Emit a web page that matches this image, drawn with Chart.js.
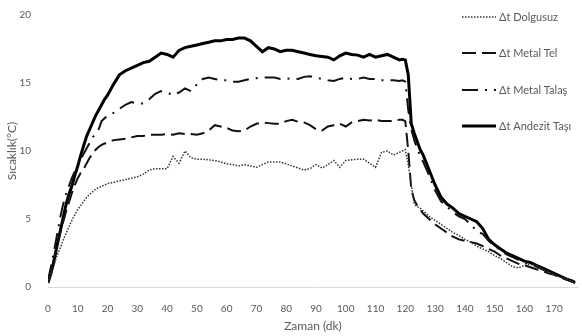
<!doctype html>
<html>
  <head>
    <meta charset="utf-8" />
    <title>Sicaklik</title>
    <script src="https://cdn.jsdelivr.net/npm/chart.js@4/dist/chart.umd.min.js"></script>
    <style>
      html, body { margin: 0; padding: 0; background: #fff; }
      #kutu { width: 582px; height: 336px; }
    </style>
    <script>
      // zaman (dk)
      const zaman = [
        0, 1, 2, 3, 4, 5, 6, 7, 8, 9, 10, 11, 12, 13, 14, 15, 16, 17, 18, 19, 20,
        22, 24, 26, 28, 30, 32, 34, 36, 38, 40, 42, 44, 46, 48, 50, 52, 54, 56, 58,
        60, 62, 64, 66, 68, 70, 72, 74, 76, 78, 80, 82, 84, 86, 88, 90, 92, 94, 96, 98,
        100, 102, 104, 106, 108, 110, 112, 114, 116, 118, 119, 120, 121, 122, 123, 124, 125, 126,
        128, 130, 132, 134, 136, 138, 140, 142, 144, 146, 148, 150, 152, 154, 156, 158,
        160, 162, 164, 166, 168, 170, 172, 174, 176, 177
      ];

      const dolgusuz = [
        0.3, 1.0, 1.6, 2.3, 2.8, 3.4, 3.9, 4.4, 4.9, 5.3, 5.7, 6.0, 6.3, 6.6, 6.8, 7.0, 7.2, 7.3, 7.4, 7.5, 7.6,
        7.7, 7.8, 7.9, 8.0, 8.1, 8.3, 8.6, 8.7, 8.7, 8.7, 9.6, 9.1, 10.0, 9.5, 9.4, 9.4, 9.35, 9.3, 9.2,
        9.05, 9.0, 8.9, 9.0, 8.9, 8.8, 9.0, 9.2, 9.2, 9.2, 9.05, 8.9, 8.75, 8.6, 8.7, 9.0, 8.75, 9.0, 9.3, 8.8,
        9.3, 9.35, 9.4, 9.4, 9.1, 8.8, 9.9, 10.0, 9.7, 9.9, 10.0, 10.1, 9.0, 7.5, 6.1, 5.9, 5.8, 5.6,
        5.2, 4.9, 4.6, 4.3, 4.0, 3.8, 3.5, 3.3, 3.0, 2.8, 2.6, 2.3, 2.1, 1.8, 1.5, 1.4,
        1.6, 1.65, 1.6, 1.3, 1.1, 0.9, 0.75, 0.6, 0.4, 0.3
      ];

      const metalTel = [
        0.4, 1.2, 2.1, 3.0, 3.9, 4.7, 5.5, 6.2, 6.9, 7.5, 8.0, 8.4, 8.7, 9.1, 9.5, 9.8, 10.1, 10.3, 10.45, 10.55, 10.6,
        10.8, 10.85, 10.9, 11.0, 11.1, 11.1, 11.2, 11.2, 11.2, 11.25, 11.2, 11.3, 11.25, 11.25, 11.2, 11.3, 11.5, 11.9, 11.8,
        11.7, 11.5, 11.45, 11.5, 11.8, 12.0, 12.1, 12.05, 12.0, 12.0, 12.2, 12.3, 12.15, 12.1, 11.9, 11.6, 11.5, 11.8, 11.9, 12.0,
        11.8, 12.1, 12.2, 12.3, 12.25, 12.3, 12.2, 12.2, 12.2, 12.3, 12.3, 12.2, 10.0, 7.2, 6.4, 6.0, 5.7, 5.4,
        5.0, 4.6, 4.3, 4.0, 3.7, 3.5, 3.4, 3.3, 3.2, 3.0, 2.8, 2.6, 2.3, 2.1, 1.9, 1.7,
        1.6, 1.45, 1.3, 1.2, 1.0, 0.9, 0.7, 0.55, 0.4, 0.3
      ];

      const metalTalas = [
        0.5, 1.5, 2.6, 3.8, 5.0, 6.0, 6.8, 7.4, 8.0, 8.5, 9.0, 9.4, 9.8, 10.2, 10.6, 11.0, 11.3, 11.6, 12.2, 12.4, 12.6,
        12.8, 13.1, 13.4, 13.6, 13.5, 13.5, 13.8, 14.2, 14.4, 14.3, 14.1, 14.3, 14.6, 14.4, 14.9, 15.3, 15.4, 15.3, 15.2,
        15.2, 15.1, 15.1, 15.2, 15.3, 15.35, 15.4, 15.4, 15.4, 15.3, 15.3, 15.35, 15.3, 15.45, 15.5, 15.4, 15.3, 15.2, 15.15, 15.3,
        15.4, 15.3, 15.3, 15.4, 15.3, 15.3, 15.2, 15.2, 15.2, 15.15, 15.2, 15.1, 13.0, 11.6, 10.8, 10.2, 9.6, 9.2,
        8.2, 7.1, 6.3, 5.9, 5.5, 5.2, 5.0, 4.6, 4.1, 3.9, 3.4, 3.0, 2.7, 2.4, 2.2, 2.0,
        1.8, 1.7, 1.5, 1.3, 1.1, 0.9, 0.75, 0.6, 0.4, 0.3
      ];

      const andezit = [
        0.3, 1.0, 1.9, 3.0, 4.0, 5.0, 6.0, 6.8, 7.4, 8.2, 8.9, 9.7, 10.4, 11.1, 11.6, 12.1, 12.6, 13.0, 13.4, 13.8, 14.1,
        14.9, 15.6, 15.9, 16.1, 16.3, 16.5, 16.6, 16.9, 17.2, 17.1, 16.9, 17.4, 17.6, 17.7, 17.8, 17.9, 18.0, 18.1, 18.1,
        18.2, 18.2, 18.3, 18.3, 18.1, 17.7, 17.3, 17.6, 17.5, 17.3, 17.4, 17.4, 17.3, 17.2, 17.1, 17.0, 16.95, 16.9, 16.7, 17.0,
        17.2, 17.1, 17.05, 16.9, 17.1, 16.9, 17.0, 17.1, 16.9, 16.7, 16.75, 16.7, 15.6, 12.0, 11.3, 10.7, 10.1, 9.7,
        8.6, 7.5, 6.6, 6.1, 5.8, 5.4, 5.2, 5.0, 4.8, 4.3, 3.5, 3.1, 2.8, 2.5, 2.3, 2.1,
        1.9, 1.8, 1.6, 1.4, 1.2, 1.0, 0.8, 0.6, 0.45, 0.35
      ];

      const seriAdlari = ["Δt Dolgusuz", "Δt Metal Tel", "Δt Metal Talaş", "Δt Andezit Taşı"];
      const yTikleri = [0, 5, 10, 15, 20];

      const yaziRengi = "#595959";
      const yaziTipi = "Lato, 'Open Sans', sans-serif";

      function noktalar(degerler) {
        return zaman.map((t, i) => ({ x: t, y: degerler[i] }));
      }

      // legend drawn inside the plot, on the right
      const sagLejant = {
        id: "sagLejant",
        afterDraw(chart) {
          const ctx = chart.ctx;
          const ys = [17, 53, 90, 126];
          ctx.save();
          chart.data.datasets.forEach((ds, i) => {
            const y = ys[i];
            ctx.beginPath();
            ctx.strokeStyle = ds.borderColor;
            ctx.lineWidth = ds.borderWidth;
            ctx.setLineDash(ds.borderDash || []);
            ctx.moveTo(462, y);
            ctx.lineTo(496, y);
            ctx.stroke();
            ctx.setLineDash([]);
            ctx.fillStyle = yaziRengi;
            ctx.font = "11px " + yaziTipi;
            ctx.textBaseline = "middle";
            ctx.fillText(ds.label, 499, y);
          });
          ctx.restore();
        },
      };

      let grafik;

      function iniciar() {
        const canvas = document.getElementById("grafik");
        grafik = new Chart(canvas, {
          type: "line",
          data: {
            datasets: [
              {
                label: seriAdlari[0],
                data: noktalar(dolgusuz),
                borderColor: "#333",
                borderWidth: 1.5,
                borderDash: [1.5, 1.5],
              },
              {
                label: seriAdlari[1],
                data: noktalar(metalTel),
                borderColor: "#111",
                borderWidth: 2,
                borderDash: [14, 6],
              },
              {
                label: seriAdlari[2],
                data: noktalar(metalTalas),
                borderColor: "#111",
                borderWidth: 2,
                borderDash: [16, 7, 2, 7],
              },
              {
                label: seriAdlari[3],
                data: noktalar(andezit),
                borderColor: "#000",
                borderWidth: 3,
              },
            ],
          },
          options: {
            responsive: false,
            animation: false,
            layout: { padding: { top: 10, right: 4, left: 2, bottom: 1 } },
            elements: { point: { radius: 0 }, line: { tension: 0, fill: false } },
            plugins: { legend: { display: false }, tooltip: { enabled: false } },
            scales: {
              x: {
                type: "linear",
                min: 0,
                max: 178,
                grid: { display: false },
                border: { color: "#d9d9d9", width: 1 },
                ticks: {
                  stepSize: 10,
                  includeBounds: false,
                  maxRotation: 0,
                  padding: 8,
                  color: yaziRengi,
                  font: { size: 10, family: yaziTipi },
                },
                title: {
                  display: true,
                  text: "Zaman (dk)",
                  color: yaziRengi,
                  font: { size: 12, family: yaziTipi },
                  padding: { top: 4, bottom: 2 },
                },
                afterFit(s) { s.height = 48; },
              },
              y: {
                min: 0,
                max: 20,
                grid: { display: false },
                border: { display: false },
                afterBuildTicks(s) { s.ticks = yTikleri.map((v) => ({ value: v })); },
                ticks: {
                  padding: 9,
                  color: yaziRengi,
                  font: { size: 10, family: yaziTipi },
                },
                title: {
                  display: true,
                  text: "Sıcaklık(°C)",
                  color: yaziRengi,
                  font: { size: 12, family: yaziTipi },
                  padding: { top: 3, bottom: 2 },
                },
                afterFit(s) { s.width = 46; },
              },
            },
          },
          plugins: [sagLejant],
        });
      }

      document.addEventListener("DOMContentLoaded", iniciar);
    </script>
  </head>
  <body>
    <div id="kutu">
      <canvas id="grafik" width="582" height="336"></canvas>
    </div>
  </body>
</html>
